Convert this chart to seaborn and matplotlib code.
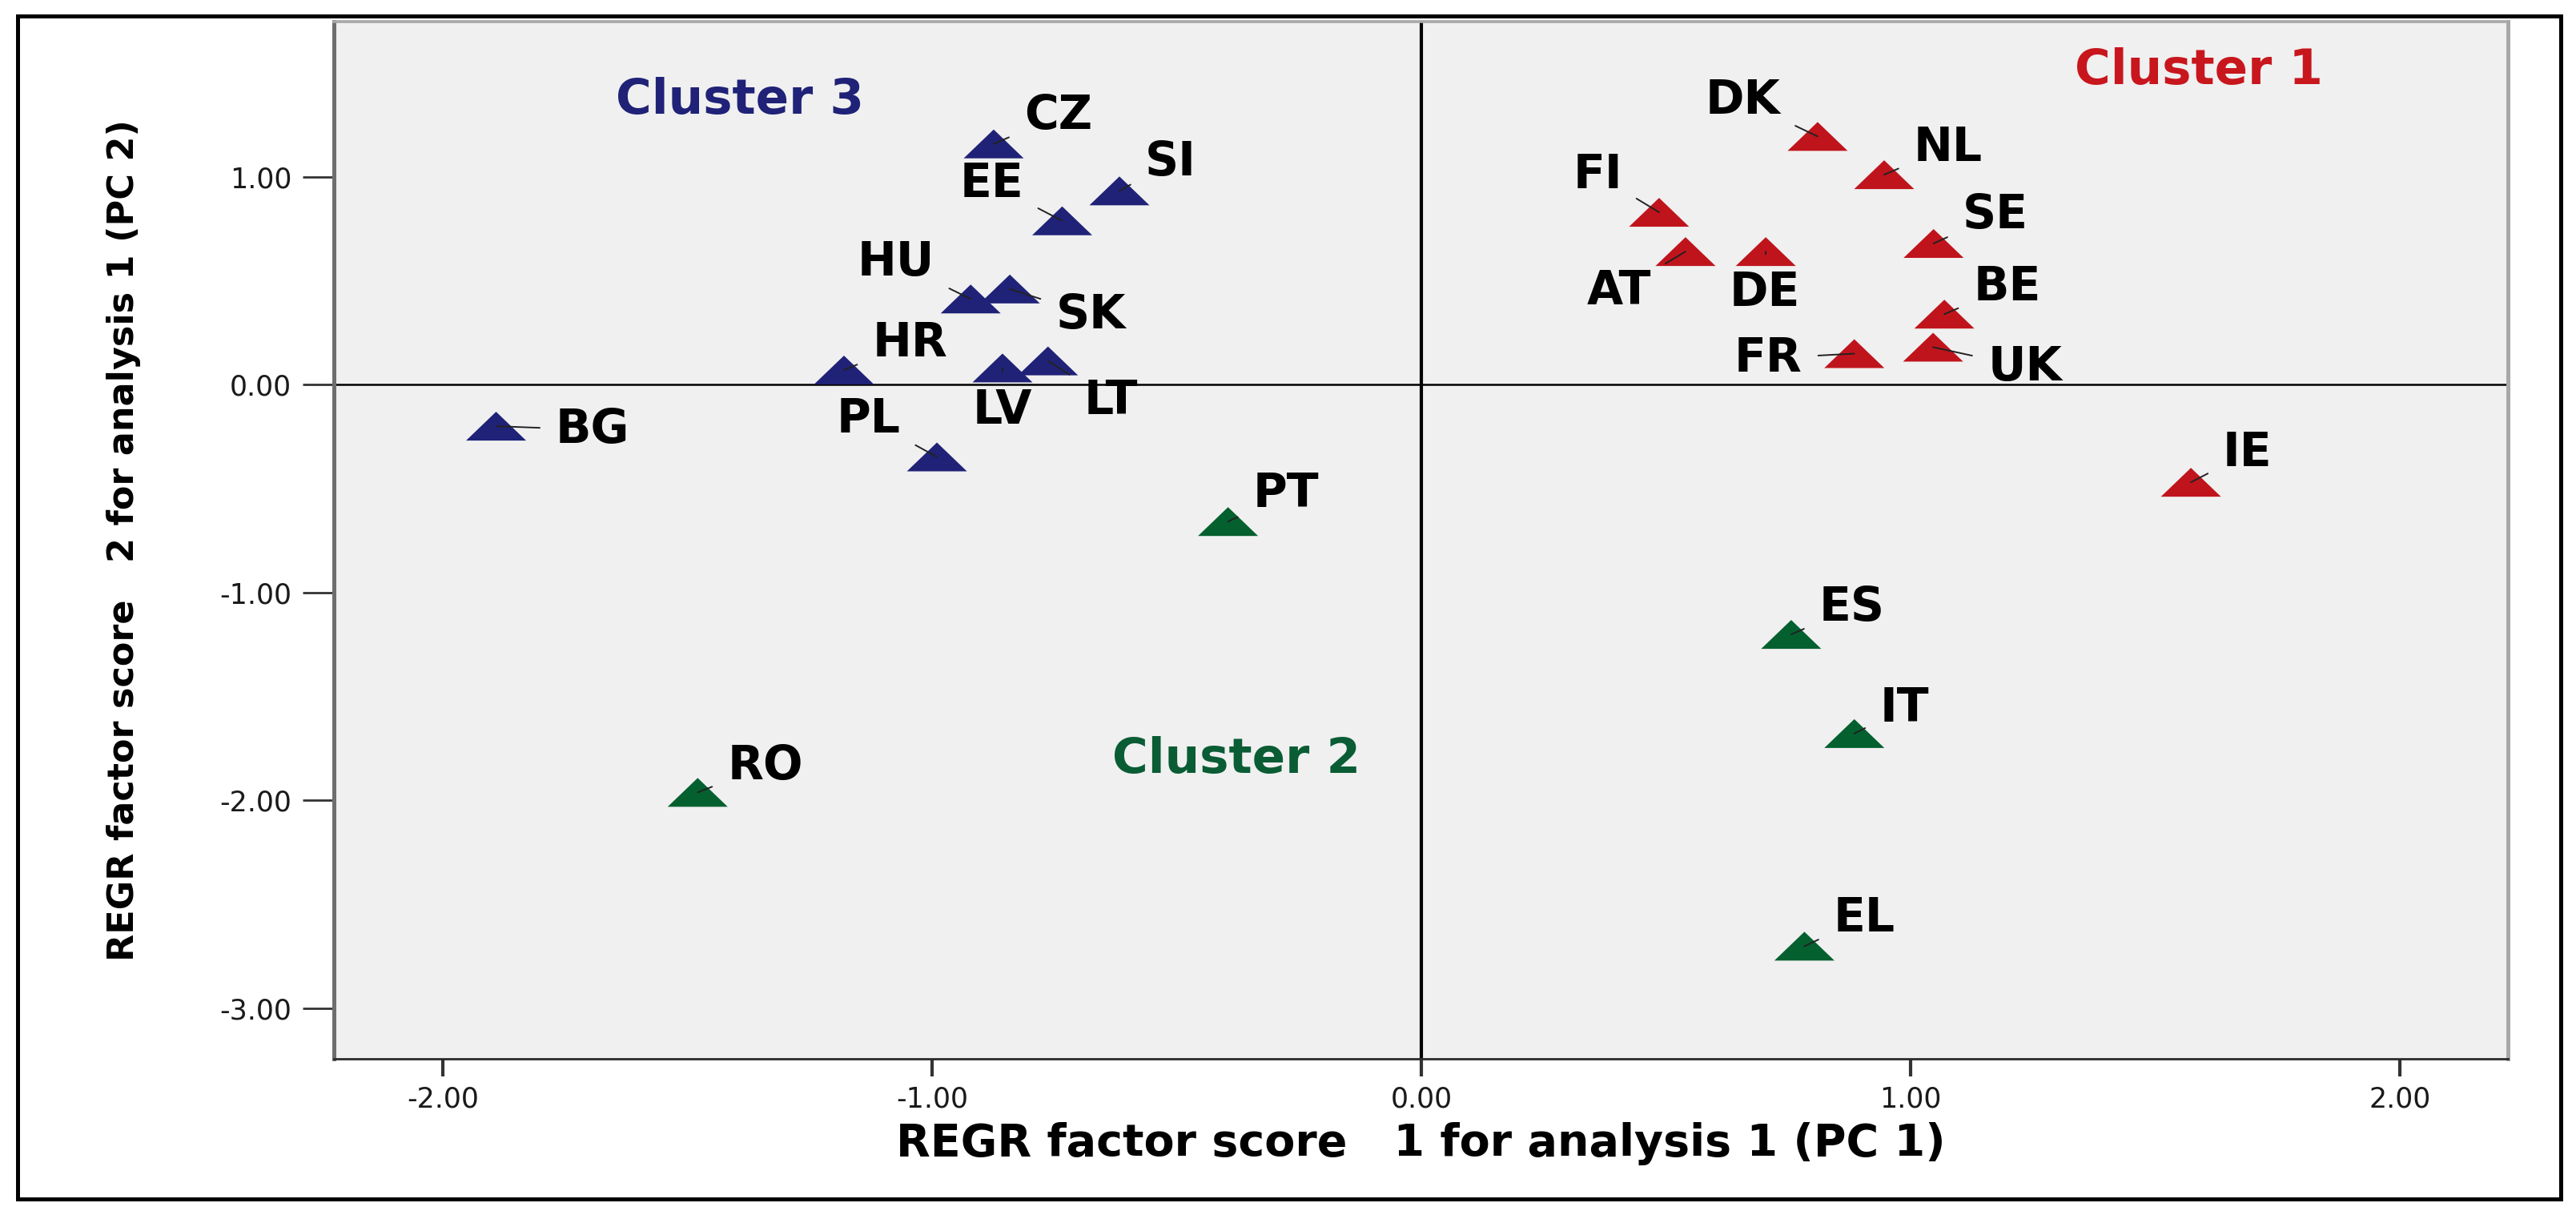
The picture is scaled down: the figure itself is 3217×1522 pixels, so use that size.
import numpy as np
import pandas as pd
import matplotlib
matplotlib.use("Agg")
import matplotlib.pyplot as plt
import seaborn as sns
from matplotlib.path import Path
from matplotlib.markers import MarkerStyle
from matplotlib.patches import Rectangle

# Data (REGR factor scores, PC1 / PC2)
countries = ["DK", "NL", "FI", "SE", "AT", "DE", "BE", "FR", "UK", "IE",
             "PT", "RO", "ES", "IT", "EL",
             "CZ", "SI", "EE", "HU", "SK", "HR", "LV", "LT", "PL", "BG"]
pc1 = [0.810, 0.946, 0.486, 1.047, 0.540, 0.704, 1.069, 0.885, 1.046, 1.573,
       -0.395, -1.479, 0.756, 0.885, 0.783,
       -0.874, -0.617, -0.734, -0.921, -0.841, -1.180, -0.856, -0.763, -0.990, -1.891]
pc2 = [1.195, 1.011, 0.830, 0.680, 0.641, 0.641, 0.340, 0.150, 0.181, -0.469,
       -0.658, -1.961, -1.201, -1.678, -2.701,
       1.159, 0.933, 0.789, 0.413, 0.461, 0.071, 0.081, 0.115, -0.347, -0.199]
cluster = ["Cluster 1"] * 10 + ["Cluster 2"] * 5 + ["Cluster 3"] * 10

cluster_names = ["Cluster 1", "Cluster 2", "Cluster 3"]
cluster_colors = ["#C0141C", "#04602F", "#1F2277"]
text_colors = ["#C8161D", "#0A5C34", "#1F2277"]

xticks = [-2, -1, 0, 1, 2]
xtick_labels = ["-2.00", "-1.00", "0.00", "1.00", "2.00"]
yticks = [-3, -2, -1, 0, 1]
ytick_labels = ["-3.00", "-2.00", "-1.00", "0.00", "1.00"]

df = pd.DataFrame({"country": countries, "pc1": pc1, "pc2": pc2, "cluster": cluster})

# label placement (offset in points from the point, alignment)
label_pos = {
    "DK": (-16.7, 10.1, "right"), "NL": (13.2, 6.3, "left"), "FI": (-16.6, 10.9, "right"),
    "SE": (12.9, 6.7, "left"), "AT": (-15.5, -23.9, "right"), "DE": (-0.4, -24.5, "center"),
    "BE": (13, 6.1, "left"), "FR": (-23.4, -8.0, "right"), "UK": (24.6, -14.9, "left"),
    "IE": (14.2, 7.2, "left"), "PT": (11, 6.4, "left"), "RO": (13.3, 6.0, "left"),
    "ES": (12.5, 6.0, "left"), "IT": (11.5, 5.5, "left"), "EL": (13, 6.7, "left"),
    "CZ": (13.6, 6.6, "left"), "SI": (11.5, 7.0, "left"), "EE": (-17.4, 10.6, "right"),
    "HU": (-16.3, 10.6, "right"), "SK": (20.7, -17.7, "left"), "HR": (12.7, 6.3, "left"),
    "LV": (0, -25.2, "center"), "LT": (16, -24.0, "left"), "PL": (-16.2, 10.9, "right"),
    "BG": (26.8, -7.6, "left"),
}
cluster_text_pos = {"Cluster 1": (1.589, 1.446), "Cluster 2": (-0.378, -1.868),
                    "Cluster 3": (-1.393, 1.303)}

sns.set_style("white")
plt.rcParams["font.family"] = ["DejaVu Sans"]

fig = plt.figure(figsize=(16.085, 7.61), dpi=200)
ax = fig.add_axes([0.1296, 0.1314, 0.844, 0.8509])
ax.set_facecolor("#F0F0F0")

# wide, flat triangle like the original
tri = MarkerStyle(Path([(-1, -0.48), (1, -0.48), (0, 0.48), (-1, -0.48)], closed=True))

ax.axhline(0, color="black", lw=0.9, zorder=1)
ax.axvline(0, color="black", lw=1.5, zorder=1)

sns.scatterplot(data=df, x="pc1", y="pc2", hue="cluster", hue_order=cluster_names,
                palette=cluster_colors, marker=tri, s=729, linewidth=0,
                edgecolor="none", legend=False, ax=ax, zorder=3)

for c, x, y in zip(countries, pc1, pc2):
    dx, dy, ha = label_pos[c]
    ax.annotate(c, xy=(x, y), xytext=(dx, dy), textcoords="offset points",
                ha=ha, va="baseline", fontsize=21, fontweight="bold", color="black",
                zorder=4,
                arrowprops=dict(arrowstyle="-", color="#222222", lw=0.7,
                                shrinkA=5, shrinkB=0))

for name, col in zip(cluster_names, text_colors):
    tx, ty = cluster_text_pos[name]
    ax.text(tx, ty, name, color=col, fontsize=22, fontweight="bold",
            ha="center", va="baseline", zorder=4)

ax.set_xlim(-2.2226, 2.221)
ax.set_ylim(-3.243, 1.7476)
ax.set_xticks(xticks)
ax.set_xticklabels(xtick_labels)
ax.set_yticks(yticks)
ax.set_yticklabels(ytick_labels)

ax.tick_params(axis="y", direction="out", length=14, width=1.0, color="#333333",
               pad=5, labelsize=12.5, labelcolor="#1A1A1A", left=True)
ax.tick_params(axis="x", direction="out", length=8, width=1.5, color="#333333",
               pad=4, labelsize=12.5, labelcolor="#1A1A1A", bottom=True)

ax.spines["left"].set_color("#6E6E6E")
ax.spines["left"].set_linewidth(1.8)
ax.spines["bottom"].set_color("#2B2B2B")
ax.spines["bottom"].set_linewidth(1.0)
ax.spines["top"].set_color("#A8A8A8")
ax.spines["top"].set_linewidth(1.3)
ax.spines["right"].set_color("#A8A8A8")
ax.spines["right"].set_linewidth(1.8)

ax.set_xlabel("REGR factor score   1 for analysis 1 (PC 1)", fontsize=20,
              fontweight="bold", va="center", color="black")
ax.set_ylabel("REGR factor score   2 for analysis 1 (PC 2)", fontsize=16,
              fontweight="bold", va="center", color="black")
ax.xaxis.set_label_coords(0.5, -0.082)
ax.yaxis.set_label_coords(-0.0965, 0.5)

# black frame round the whole picture
fig.add_artist(Rectangle((22 / 3217, 1 - 1497 / 1522), (3198 - 22) / 3217,
                         (1497 - 20) / 1522, transform=fig.transFigure,
                         fill=False, lw=1.8, ec="black"))

fig.savefig("out.png", dpi=200, facecolor="white")
